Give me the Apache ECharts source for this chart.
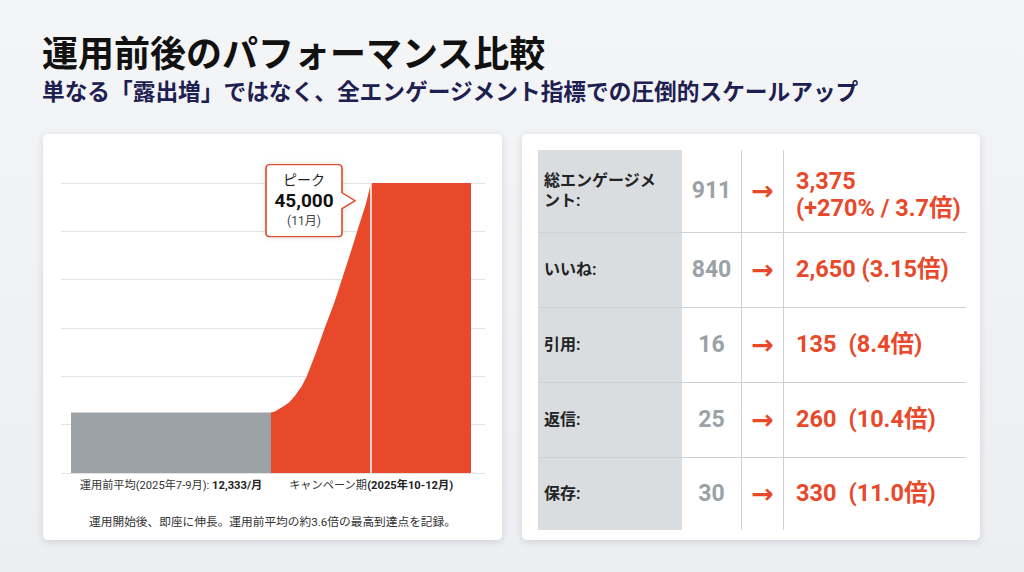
<!DOCTYPE html>
<html lang="ja">
<head>
<meta charset="utf-8">
<title>運用前後のパフォーマンス比較</title>
<script src="https://cdn.jsdelivr.net/npm/echarts@6/dist/echarts.min.js"></script>
<style>
  html, body { margin: 0; padding: 0; }
  body {
    width: 1024px; height: 572px; overflow: hidden; position: relative;
    background: linear-gradient(180deg, #f4f5f7 0%, #eceef1 100%);
    font-family: Roboto, "Noto Sans CJK JP", sans-serif;
  }
  h1 {
    position: absolute; left: 42px; top: 29px; margin: 0;
    font: 700 36px/44px "Noto Sans CJK JP", sans-serif; color: #111;
  }
  h2 {
    position: absolute; left: 42px; top: 76px; margin: 0;
    font: 700 22.7px/30px "Noto Sans CJK JP", sans-serif; color: #1d2050;
  }
  .card {
    position: absolute; top: 134px; height: 406px; background: #fff;
    border-radius: 5px; box-shadow: 0 2px 8px rgba(0, 0, 0, 0.12);
  }
  #left { left: 43px; width: 459px; }
  #right { left: 522px; width: 458px; }
  #chart { width: 100%; height: 100%; }
  table {
    position: absolute; left: 16px; top: 16px; width: 428px;
    border-collapse: collapse; table-layout: fixed;
  }
  td { padding: 0; vertical-align: middle; }
  tr + tr td { border-top: 1px solid #cdd2d6; }
  td.label {
    width: 144px; background: #d9dde0; padding: 0 20px 0 6px; box-sizing: border-box;
    font: 700 16px/20px Roboto, "Noto Sans CJK JP", sans-serif; color: #222;
  }
  td.before {
    width: 59px; text-align: center; color: #9ba2a6;
    font: 700 23px/26px Roboto, "Noto Sans CJK JP", sans-serif;
  }
  td.arrow {
    width: 41px; text-align: center; color: #e8492b;
    border-left: 1px solid #cdd2d6; border-right: 1px solid #cdd2d6;
    font: 700 27px/26px "DejaVu Sans", sans-serif;
  }
  td.after {
    padding-left: 12px; color: #e8492b;
    font: 700 23.5px/27px Roboto, "Noto Sans CJK JP", sans-serif;
  }
  tr:first-child td.after { padding-top: 8px; }
</style>
</head>
<body>
<h1>運用前後のパフォーマンス比較</h1>
<h2>単なる「露出増」ではなく、全エンゲージメント指標での圧倒的スケールアップ</h2>
<div class="card" id="left"><div id="chart"></div></div>
<div class="card" id="right"><table id="metrics"></table></div>
<script>
// left chart: monthly impressions, before vs campaign
const preX = [0, 2]
const preLevel = 9400
const rampX = [2, 2.04, 2.08, 2.13, 2.18, 2.24, 2.31, 2.36, 2.45, 2.54, 2.63, 2.71, 2.8, 2.88, 2.95, 3]
const rampY = [9400, 9550, 9930, 10400, 10950, 12000, 13550, 15100, 18700, 22600, 26300, 30100, 34400, 38400, 41800, 45000]
const peakX = [3, 4]
const peakValue = 45000
const yMax = 45000
const yStep = 7500
const periodLabels = ["運用前平均(2025年7-9月): ", "12,333/月", "キャンペーン期", "(2025年10-12月)"]
const labelAt = [1, 3]
const peakText = ["ピーク", "45,000", "(11月)"]
const footnote = "運用開始後、即座に伸長。運用前平均の約3.6倍の最高到達点を記録。"

// right table
const metricLabels = ["総エンゲージメント:", "いいね:", "引用:", "返信:", "保存:"]
const beforeValues = ["911", "840", "16", "25", "30"]
const afterText = ["3,375\n(+270% / 3.7倍)", "2,650 (3.15倍)", "135\u2002(8.4倍)", "260\u2002(10.4倍)", "330\u2002(11.0倍)"]
const rowHeights = [82, 75, 75, 75, 73]

const red = "#e8492b"
const gray = "#9ca2a5"

const table = document.getElementById("metrics")
metricLabels.forEach((label, i) => {
  const tr = document.createElement("tr")
  tr.style.height = rowHeights[i] + "px"
  const after = afterText[i].split("\n").join("<br>")
  tr.innerHTML =
    `<td class="label">${label}</td>` +
    `<td class="before">${beforeValues[i]}</td>` +
    `<td class="arrow">→</td>` +
    `<td class="after">${after}</td>`
  table.appendChild(tr)
})

const chart = echarts.init(document.getElementById("chart"), null, { renderer: "svg" })

const areaLine = (xs, ys, color, extra) => ({
  type: "line",
  data: xs.map((x, i) => [x, ys[i]]),
  symbol: "none",
  lineStyle: { width: 0 },
  areaStyle: { color: color, opacity: 1 },
  silent: true,
  ...extra,
})

chart.setOption({
  animation: false,
  textStyle: { fontFamily: 'Roboto, "Noto Sans CJK JP", sans-serif' },
  title: {
    text: footnote,
    left: "center",
    top: 380,
    padding: 0,
    textStyle: { fontSize: 11.7, fontWeight: "normal", color: "#333", lineHeight: 16 },
  },
  grid: { left: 18, right: 17, top: 49, bottom: 67 },
  xAxis: {
    type: "value",
    min: -0.1,
    max: 4.14,
    axisLine: { show: false },
    axisTick: { show: false },
    splitLine: { show: false },
    axisLabel: {
      customValues: labelAt,
      margin: 7,
      formatter: (v) =>
        v === labelAt[0]
          ? `{n|${periodLabels[0]}}{b|${periodLabels[1]}}`
          : `{n|${periodLabels[2]}}{b|${periodLabels[3]}}`,
      rich: {
        n: { fontSize: 11.2, color: "#333" },
        b: { fontSize: 11.2, color: "#222", fontWeight: "bold" },
      },
    },
  },
  yAxis: {
    type: "value",
    min: 0,
    max: yMax,
    interval: yStep,
    axisLine: { show: false },
    axisTick: { show: false },
    axisLabel: { show: false },
    splitLine: { lineStyle: { color: "#e1e4e7", width: 1 } },
  },
  series: [
    areaLine(preX, preX.map(() => preLevel), gray),
    areaLine(rampX, rampY, red),
    areaLine(peakX, peakX.map(() => peakValue), red, {
      markLine: {
        silent: true,
        symbol: "none",
        label: { show: false },
        lineStyle: { color: "#fff", width: 1.5, type: "solid" },
        data: [{ xAxis: peakX[0] }],
      },
      markPoint: {
        silent: true,
        data: [{ coord: [peakX[0], peakValue] }],
        symbol: "path://M4,0H72Q76,0,76,4V28L89,36L76,44V68Q76,72,72,72H4Q0,72,0,68V4Q0,0,4,0Z",
        symbolSize: [89, 72],
        symbolOffset: [-60.5, 17.7],
        itemStyle: {
          color: "#fff",
          borderColor: "#df4f30",
          borderWidth: 1.5,
          shadowBlur: 6,
          shadowColor: "rgba(0,0,0,0.12)",
        },
        label: {
          show: true,
          position: "inside",
          offset: [-6.5, 0],
          formatter: `{a|${peakText[0]}}\n{b|${peakText[1]}}\n{c|${peakText[2]}}`,
          rich: {
            a: { fontSize: 14, color: "#222", lineHeight: 19, align: "center" },
            b: { fontSize: 19, color: "#111", fontWeight: "bold", lineHeight: 22, align: "center" },
            c: { fontSize: 12, color: "#444", lineHeight: 19, align: "center" },
          },
        },
      },
    }),
  ],
})
</script>
</body>
</html>
